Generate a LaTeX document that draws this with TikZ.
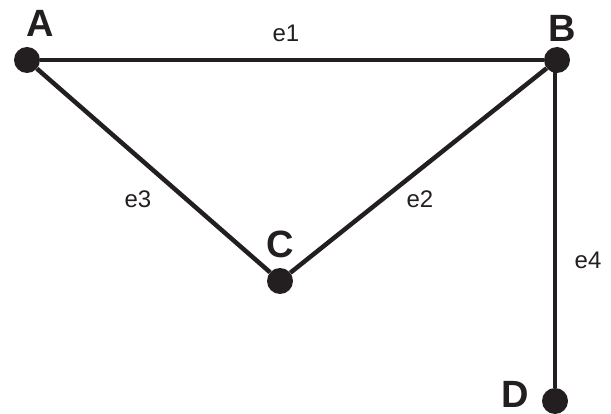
\documentclass[tikz,border=0pt]{standalone}
\usepackage{fontspec}
\setmainfont{Liberation Sans}
\definecolor{ink}{HTML}{231F20}
\begin{document}
\begin{tikzpicture}[x=1pt,y=-1pt,
  dot/.style={circle,fill=ink,inner sep=0pt,minimum size=26pt},
  vlabel/.style={inner sep=0pt,text=ink,font=\fontsize{38}{38}\selectfont\bfseries},
  elabel/.style={inner sep=0pt,text=ink,font=\fontsize{24}{24}\selectfont},
  edge/.style={draw=ink,line width=4.5pt}]
\useasboundingbox (0,0) rectangle (611,414);
\node[dot] (A) at (27,60) {};
\node[dot] (B) at (557,60) {};
\node[dot] (C) at (280,281) {};
\node[dot] (D) at (555,401) {};
\node[vlabel] (lA) at (40,23) {A};
\node[vlabel] (lB) at (562,28) {B};
\node[vlabel] (lC) at (280,244) {C};
\node[vlabel] (lD) at (515,394) {D};
\path[edge] (A) -- (B);
\path[edge] (A) -- (C);
\path[edge] (B) -- (C);
\path[edge] (B.center) ++(-2,0) coordinate (Bv) (Bv) -- (D);
\node[elabel] (e1) at (286,33) {e1};
\node[elabel] (e2) at (420,199) {e2};
\node[elabel] (e3) at (138,199) {e3};
\node[elabel] (e4) at (588,260) {e4};
\end{tikzpicture}
\end{document}
